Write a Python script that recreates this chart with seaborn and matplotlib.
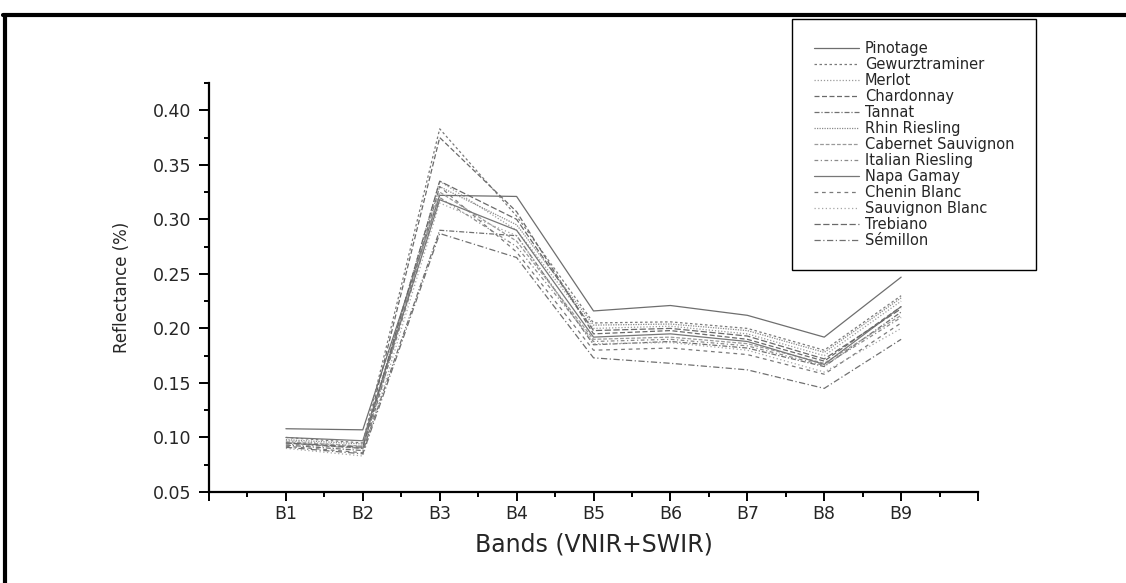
import matplotlib
matplotlib.use("Agg")
import matplotlib.pyplot as plt
import seaborn as sns
from matplotlib.lines import Line2D
from matplotlib.ticker import MultipleLocator, FixedLocator

# datos
bands = ["B1", "B2", "B3", "B4", "B5", "B6", "B7", "B8", "B9"]
band_pos = [1, 2, 3, 4, 5, 6, 7, 8, 9]

pinotage = [0.108, 0.107, 0.322, 0.321, 0.216, 0.221, 0.212, 0.192, 0.247]
gewurztraminer = [0.100, 0.095, 0.383, 0.303, 0.205, 0.206, 0.200, 0.180, 0.230]
merlot = [0.097, 0.092, 0.335, 0.290, 0.200, 0.202, 0.195, 0.175, 0.225]
chardonnay = [0.095, 0.090, 0.375, 0.307, 0.195, 0.198, 0.190, 0.170, 0.220]
tannat = [0.093, 0.088, 0.290, 0.285, 0.185, 0.188, 0.182, 0.165, 0.215]
rhin_riesling = [0.098, 0.094, 0.330, 0.295, 0.203, 0.204, 0.198, 0.178, 0.228]
cabernet_sauvignon = [0.096, 0.092, 0.325, 0.280, 0.190, 0.192, 0.186, 0.168, 0.212]
italian_riesling = [0.094, 0.090, 0.320, 0.275, 0.188, 0.190, 0.184, 0.166, 0.210]
napa_gamay = [0.100, 0.097, 0.318, 0.290, 0.192, 0.195, 0.188, 0.167, 0.220]
chenin_blanc = [0.092, 0.086, 0.330, 0.270, 0.180, 0.182, 0.176, 0.158, 0.205]
sauvignon_blanc = [0.090, 0.083, 0.315, 0.285, 0.186, 0.187, 0.180, 0.160, 0.200]
trebiano = [0.095, 0.091, 0.335, 0.300, 0.198, 0.200, 0.193, 0.172, 0.218]
semillon = [0.091, 0.085, 0.287, 0.265, 0.173, 0.168, 0.162, 0.145, 0.190]

series = [
    ("Pinotage", pinotage, "-", "#6e6e6e"),
    ("Gewurztraminer", gewurztraminer, (0, (2, 2)), "#7a7a7a"),
    ("Merlot", merlot, (0, (1, 1.5)), "#9a9a9a"),
    ("Chardonnay", chardonnay, (0, (4, 2)), "#6a6a6a"),
    ("Tannat", tannat, (0, (4, 1.5, 1, 1.5)), "#707070"),
    ("Rhin Riesling", rhin_riesling, (0, (1, 1)), "#8a8a8a"),
    ("Cabernet Sauvignon", cabernet_sauvignon, (0, (3, 1.5)), "#9a9a9a"),
    ("Italian Riesling", italian_riesling, (0, (3, 2, 1, 2)), "#8a8a8a"),
    ("Napa Gamay", napa_gamay, "-", "#777777"),
    ("Chenin Blanc", chenin_blanc, (0, (3, 3)), "#7a7a7a"),
    ("Sauvignon Blanc", sauvignon_blanc, (0, (1, 2)), "#a5a5a5"),
    ("Trebiano", trebiano, (0, (5, 2)), "#6a6a6a"),
    ("Sémillon", semillon, (0, (5, 2, 1, 2)), "#707070"),
]

sns.set_style("white")
plt.rcParams['font.family'] = ['DejaVu Sans']

fig = plt.figure(figsize=(11.26, 5.83), dpi=100)
ax = fig.add_axes([0.1856, 0.1561, 0.683, 0.7015])

handles = []
for name, vals, ls, col in series:
    sns.lineplot(x=band_pos, y=vals, ax=ax, color=col, linestyle=ls, linewidth=0.9)
    handles.append(Line2D([], [], color=col, linestyle=ls, linewidth=0.9, label=name))

ax.set_xlim(0, 10)
ax.set_ylim(0.05, 0.425)
ax.xaxis.set_major_locator(FixedLocator(range(0, 11)))
ax.set_xticklabels([""] + bands + [""])
ax.xaxis.set_minor_locator(MultipleLocator(0.5))
ax.yaxis.set_major_locator(FixedLocator([0.05, 0.10, 0.15, 0.20, 0.25, 0.30, 0.35, 0.40]))
ax.set_yticklabels(["0.05", "0.10", "0.15", "0.20", "0.25", "0.30", "0.35", "0.40"])
ax.yaxis.set_minor_locator(MultipleLocator(0.025))

for s in ["top", "right"]:
    ax.spines[s].set_visible(False)
for s in ["left", "bottom"]:
    ax.spines[s].set_linewidth(1.6)
    ax.spines[s].set_color("black")

ax.tick_params(axis="x", which="major", direction="out", length=6.5, width=1.4,
               labelsize=12.5, color="black", pad=3, bottom=True)
ax.tick_params(axis="y", which="major", direction="out", length=7.5, width=1.4,
               labelsize=12.5, color="black", pad=5, left=True)
ax.tick_params(which="minor", direction="out", length=3.5, width=1.4, color="black",
               bottom=True, left=True)

ax.set_xlabel("Bands (VNIR+SWIR)", fontsize=17)
ax.xaxis.set_label_coords(0.5, -0.10)
ax.set_ylabel("Reflectance (%)", fontsize=12)
ax.yaxis.set_label_coords(-0.101, 0.5)

leg = ax.legend(handles=handles, loc="upper left", bbox_to_anchor=(0.7034, 0.9674),
                bbox_transform=fig.transFigure, fontsize=10.5, frameon=True,
                fancybox=False, borderpad=1.5, labelspacing=0.07, handlelength=3.1,
                handletextpad=0.4, borderaxespad=0)
leg.get_frame().set_edgecolor("black")
leg.get_frame().set_linewidth(1.0)
leg.get_frame().set_alpha(1)

# marco negro del recorte original
fig.add_artist(Line2D([0.003, 1.0], [0.975, 0.975], color="black", linewidth=3,
                      transform=fig.transFigure))
fig.add_artist(Line2D([0.0045, 0.0045], [0.0, 0.975], color="black", linewidth=3,
                      transform=fig.transFigure))

fig.savefig("out.png", dpi=100)
